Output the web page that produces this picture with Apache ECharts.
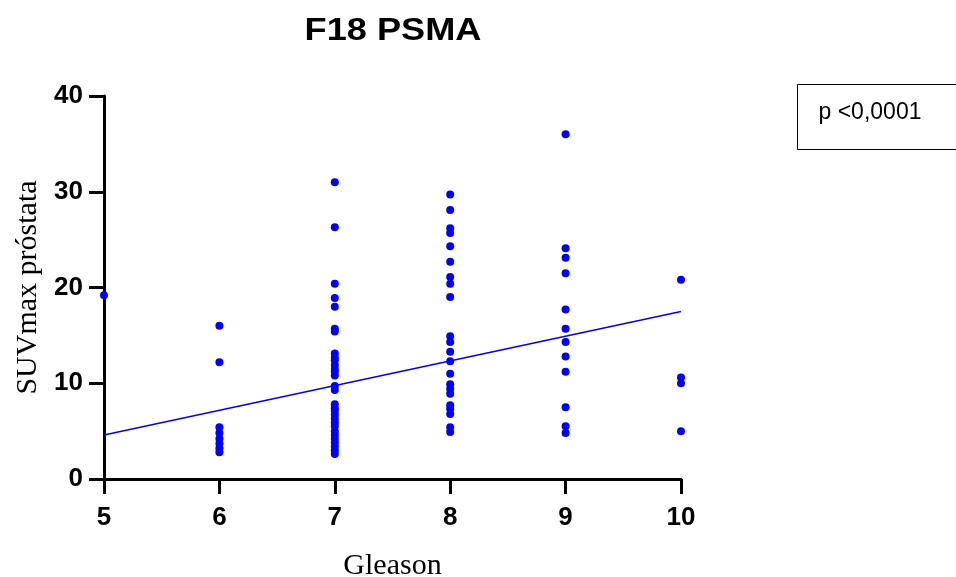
<!DOCTYPE html>
<html>
<head>
<meta charset="utf-8">
<script src="https://cdn.jsdelivr.net/npm/echarts@6/dist/echarts.min.js"></script>
<style>
  html, body { margin: 0; padding: 0; background: #fff; }
  #main { width: 956px; height: 577px; }
</style>
</head>
<body>
<div id="main"></div>
<script>
// SUVmax per Gleason score
const gleason5 = [19.2];
const gleason6 = [16.0, 12.2, 5.4, 4.8, 4.2, 3.7, 3.2, 2.8];
const gleason7 = [31.0, 26.3, 20.4, 18.9, 18.0, 15.7, 15.4, 13.1, 12.7, 12.4, 11.9, 11.5, 11.2, 10.8,
  9.7, 9.3, 7.8, 7.4, 7.1, 6.7, 6.3, 5.9, 5.5, 5.0, 4.6, 4.2, 3.8, 3.4, 3.0, 2.6];
const gleason8 = [29.7, 28.1, 26.2, 25.7, 24.3, 22.7, 21.1, 20.4, 19.0, 14.9, 14.3, 13.3, 12.3, 11.0,
  9.9, 9.4, 8.9, 7.7, 7.3, 6.8, 5.4, 4.9];
const gleason9 = [36.0, 24.1, 23.1, 21.5, 17.7, 15.7, 14.3, 12.8, 11.2, 7.5, 5.5, 4.8];
const gleason10 = [20.8, 10.6, 10.0, 5.0];
const fitLine = [[5, 4.6], [10, 17.5]];
const xTicks = [5, 6, 7, 8, 9, 10];
const yTicks = [0, 10, 20, 30, 40];

const groups = [[5, gleason5], [6, gleason6], [7, gleason7], [8, gleason8], [9, gleason9], [10, gleason10]];
const points = [];
groups.forEach(function (g) {
  g[1].forEach(function (v) { points.push([g[0], v]); });
});

const chart = echarts.init(document.getElementById('main'));
const bold = { fontFamily: 'Liberation Sans, Arial', fontWeight: 'bold', color: '#000' };
const serif = { fontFamily: 'Liberation Serif, Times New Roman', fontSize: 30, color: '#000' };

chart.setOption({
  animation: false,
  grid: { left: 104, right: 275, top: 96, bottom: 98, outerBoundsMode: 'none', containLabel: false },
  xAxis: {
    type: 'value',
    min: 5, max: 10, interval: 1,
    name: 'Gleason',
    nameLocation: 'middle',
    nameGap: 72,
    nameTextStyle: serif,
    axisLine: { onZero: false, lineStyle: { color: '#000', width: 3 } },
    axisTick: { show: true, length: 15, lineStyle: { color: '#000', width: 3 } },
    splitLine: { show: false },
    axisLabel: Object.assign({ fontSize: 26, margin: 26, formatter: function (v) { return xTicks.indexOf(v) >= 0 ? String(v) : ''; } }, bold)
  },
  yAxis: {
    type: 'value',
    min: 0, max: 40, interval: 10,
    name: 'SUVmax próstata',
    nameLocation: 'middle',
    nameGap: 61,
    nameTextStyle: serif,
    axisLine: { show: true, lineStyle: { color: '#000', width: 3 } },
    axisTick: { show: true, length: 15, lineStyle: { color: '#000', width: 3 } },
    splitLine: { show: false },
    axisLabel: Object.assign({ fontSize: 26, margin: 21, formatter: function (v) { return yTicks.indexOf(v) >= 0 ? String(v) : ''; } }, bold)
  },
  graphic: [
    {
      type: 'text',
      x: 393, y: 31,
      scaleX: 1.13,
      style: {
        text: 'F18 PSMA',
        font: 'bold 32px Liberation Sans, Arial',
        fill: '#000',
        textAlign: 'center',
        textVerticalAlign: 'middle'
      }
    },
    {
      type: 'group',
      left: 797,
      top: 84,
      children: [
        { type: 'rect', shape: { x: 0, y: 0, width: 170, height: 65 }, style: { fill: '#fff', stroke: '#000', lineWidth: 1 } },
        { type: 'text', x: 21, y: 28, style: { text: 'p <0,0001', font: '23px Liberation Sans, Arial', fill: '#000', textVerticalAlign: 'middle' } }
      ]
    }
  ],
  series: [
    {
      type: 'line',
      data: fitLine,
      symbol: 'none',
      lineStyle: { color: '#0000ff', width: 1.5 },
      z: 2
    },
    {
      type: 'scatter',
      data: points,
      symbolSize: 8,
      clip: false,
      itemStyle: { color: '#0000ff', opacity: 1 },
      z: 3
    }
  ]
});
</script>
</body>
</html>
